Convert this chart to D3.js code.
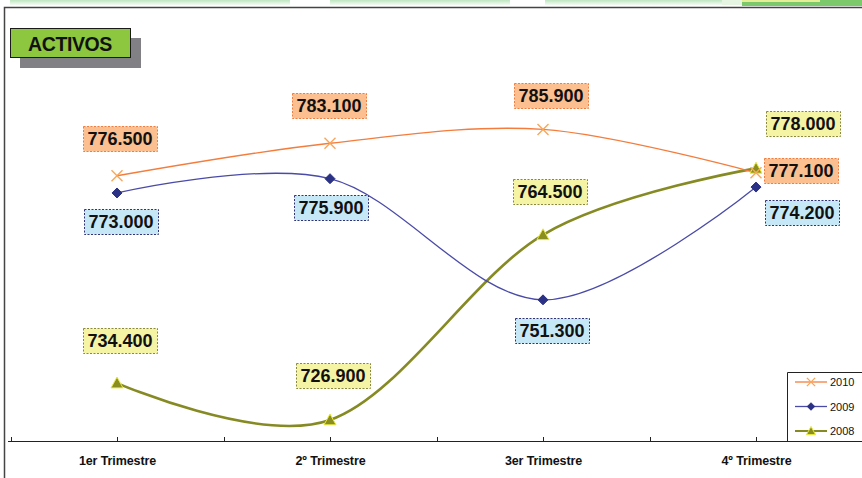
<!DOCTYPE html>
<html><head><meta charset="utf-8">
<script src="https://cdn.jsdelivr.net/npm/d3@7"></script>
<style>
html,body{margin:0;padding:0;background:#fff;}
svg{display:block;font-family:Arial,"Liberation Sans",sans-serif;}
</style></head>
<body>
<svg id="chart" width="862" height="478"></svg>
<script>
const categories = ["1er Trimestre","2º Trimestre","3er Trimestre","4º Trimestre"];
const seriesNames = ["2010","2009","2008"];
const values2010 = [776.5, 783.1, 785.9, 777.1];
const values2009 = [773.0, 775.9, 751.3, 774.2];
const values2008 = [734.4, 726.9, 764.5, 778.0];
const valueLabels2010 = ["776.500","783.100","785.900","777.100"];
const valueLabels2009 = ["773.000","775.900","751.300","774.200"];
const valueLabels2008 = ["734.400","726.900","764.500","778.000"];
const yDomain = [720, 800];

// layout (label offsets relative to each point, px)
const labelOffsets = {
  "2010": [[3,-37],[-1,-38],[8,-34],[45,-2]],
  "2009": [[4,29],[1,29],[9,31],[46,25]],
  "2008": [[3,-43],[3,-45],[7,-43],[47,-45]]
};
const styles = {
  "2010": {line:"#f47c3c", width:1.3, fill:"#fbbf90", border:"#f47c3c", marker:"x"},
  "2009": {line:"#4a4aa8", width:1.3, fill:"#c6e8f6", border:"#33337a", marker:"diamond"},
  "2008": {line:"#858a23", width:2.6, fill:"#f5f4a4", border:"#8a8a3a", marker:"triangle"}
};
const data = {"2010":values2010, "2009":values2009, "2008":values2008};
const labels = {"2010":valueLabels2010, "2009":valueLabels2009, "2008":valueLabels2008};

const svg = d3.select("#chart");

// top decorative strip
const defs = svg.append("defs");
const g1 = defs.append("linearGradient").attr("id","strip").attr("x1","0").attr("x2","0").attr("y1","0").attr("y2","1");
g1.append("stop").attr("offset","0").attr("stop-color","#bfe6c0");
g1.append("stop").attr("offset","1").attr("stop-color","#f4fbf4");
[[10,290],[330,510],[545,722]].forEach(([a,b])=>{
  svg.append("rect").attr("x",a).attr("y",0).attr("width",b-a).attr("height",5).attr("fill","url(#strip)");
});
svg.append("rect").attr("x",722).attr("y",0).attr("width",20).attr("height",5).attr("fill","#e6f5e2");
svg.append("rect").attr("x",742).attr("y",0).attr("width",120).attr("height",3).attr("fill","#e7ee98");
svg.append("rect").attr("x",742).attr("y",2).attr("width",120).attr("height",4).attr("fill","#7cc96c");
svg.append("rect").attr("x",820).attr("y",0).attr("width",42).attr("height",6).attr("fill","#7cc96c");

// frame
svg.append("path").attr("d","M4.5,478 V7.5 H862").attr("fill","none").attr("stroke","#444").attr("stroke-width",1.5);

// title
svg.append("rect").attr("x",20).attr("y",38).attr("width",121).attr("height",30).attr("fill","#808085");
svg.append("rect").attr("x",10.5).attr("y",28.5).attr("width",120).attr("height",29).attr("fill","#8dc63f").attr("stroke","#1a1a1a").attr("stroke-width",1);
svg.append("text").attr("x",70).attr("y",50.5).attr("text-anchor","middle").attr("font-size",19.5).attr("font-weight","bold").attr("fill","#111").attr("letter-spacing","-0.4").text("ACTIVOS");

// scales
const x = d3.scalePoint().domain(categories).range([117, 756]);
const y = d3.scaleLinear().domain(yDomain).range([454, 60]);
const axisY = 441;
const step = x.step();

// axis labels
const xAxis = d3.axisBottom(x).tickSize(0).tickPadding(13);
const axG = svg.append("g").attr("transform",`translate(0,${axisY})`).call(xAxis);
axG.select(".domain").remove();
axG.selectAll("text").attr("font-size",12.5).attr("font-weight","bold").attr("fill","#111").attr("font-family","Arial,'Liberation Sans',sans-serif").attr("letter-spacing","-0.1").attr("dy","0.9em");
svg.append("line").attr("x1",8).attr("x2",862).attr("y1",axisY+0.5).attr("y2",axisY+0.5).attr("stroke","#222").attr("stroke-width",1);
const tickPos = [];
categories.forEach(c=>{ tickPos.push(x(c)-step/2, x(c)); });
tickPos.push(x(categories[3])+step/2);
svg.selectAll("line.tk").data(tickPos).enter().append("line").attr("class","tk")
  .attr("x1",d=>Math.round(d)+0.5).attr("x2",d=>Math.round(d)+0.5).attr("y1",axisY-4).attr("y2",axisY+0.5).attr("stroke","#222");

// lines
const line = d3.line().x((d,i)=>x(categories[i])).y(d=>y(d)).curve(d3.curveCatmullRom.alpha(0));
const drawOrder = ["2008","2009","2010"];
drawOrder.forEach(s=>{
  svg.append("path").datum(data[s]).attr("d",line).attr("fill","none").attr("stroke",styles[s].line).attr("stroke-width",styles[s].width);
});

function marker(g, type, cx, cy, big){
  const k = big ? 1 : 0.75;
  if(type==="x"){
    const r=5.5*k;
    g.append("path").attr("d",`M${cx-r},${cy-r}L${cx+r},${cy+r}M${cx-r},${cy+r}L${cx+r},${cy-r}`).attr("stroke","#f9a65a").attr("stroke-width",1.4).attr("fill","none");
  } else if(type==="diamond"){
    const r=5*k;
    g.append("path").attr("d",`M${cx},${cy-r}L${cx+r},${cy}L${cx},${cy+r}L${cx-r},${cy}Z`).attr("fill","#2b3285").attr("stroke","#2b3285");
  } else {
    const r=6*k;
    g.append("path").attr("d",`M${cx},${cy-r}L${cx+r},${cy+r*0.8}L${cx-r},${cy+r*0.8}Z`).attr("fill","#8a8d20").attr("stroke","#e8ea3a").attr("stroke-width",1);
  }
}
drawOrder.forEach(s=>{
  const g = svg.append("g");
  data[s].forEach((v,i)=>marker(g, styles[s].marker, x(categories[i]), y(v), true));
});

// value labels
seriesNames.forEach(s=>{
  data[s].forEach((v,i)=>{
    const cx = x(categories[i]) + labelOffsets[s][i][0];
    const cy = y(v) + labelOffsets[s][i][1];
    const w = 74, h = 25;
    svg.append("rect").attr("x",Math.round(cx-w/2)+0.5).attr("y",Math.round(cy-h/2)+0.5).attr("width",w).attr("height",h)
      .attr("fill",styles[s].fill).attr("stroke",styles[s].border).attr("stroke-width",1).attr("stroke-dasharray","2,1.5");
    svg.append("text").attr("x",cx).attr("y",cy+6.5).attr("text-anchor","middle").attr("font-size",18).attr("font-weight","bold").attr("fill","#111").text(labels[s][i]);
  });
});

// legend
const lg = svg.append("g");
lg.append("path").attr("d","M787.5,441 V372.5 H862").attr("fill","none").attr("stroke","#222");
seriesNames.forEach((s,i)=>{
  const ly = 382 + i*24.5;
  lg.append("line").attr("x1",795).attr("x2",827).attr("y1",ly).attr("y2",ly).attr("stroke",styles[s].line).attr("stroke-width",s==="2008"?2:1.3);
  marker(lg, styles[s].marker, 811, ly, false);
  lg.append("text").attr("x",830).attr("y",ly+4).attr("font-size",11).attr("fill","#111").text(s);
});
</script>
</body></html>
